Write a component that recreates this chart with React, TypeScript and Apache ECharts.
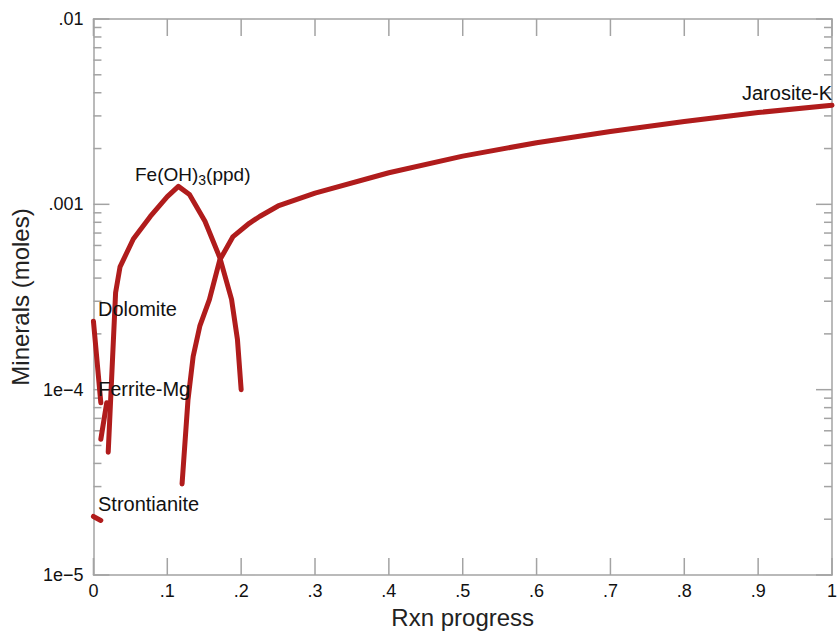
import React, { useEffect, useRef } from "react";
import * as echarts from "echarts";

// ---- data ----
const xTickValues = [0, 0.1, 0.2, 0.3, 0.4, 0.5, 0.6, 0.7, 0.8, 0.9, 1];
const xTickLabels = ["0", ".1", ".2", ".3", ".4", ".5", ".6", ".7", ".8", ".9", "1"];
const yTickValues = [1e-5, 1e-4, 1e-3, 1e-2];
const yTickLabels = ["1e\u22125", "1e\u22124", ".001", ".01"];
const minorMantissas = [2, 3, 4, 5, 6, 7, 8, 9];
const minorDecades = [1e-5, 1e-4, 1e-3];

const dolomiteX = [0, 0.01];
const dolomiteY = [2.34e-4, 8.5e-5];

const ferriteX = [0.01, 0.018];
const ferriteY = [5.4e-5, 8.5e-5];

const strontianiteX = [0, 0.01];
const strontianiteY = [2.07e-5, 1.97e-5];

const feohX = [0.02, 0.03, 0.036, 0.054, 0.077, 0.1, 0.115, 0.13, 0.151, 0.171, 0.187, 0.195, 0.2];
const feohY = [4.6e-5, 3.34e-4, 4.6e-4, 6.5e-4, 8.6e-4, 1.1e-3, 1.25e-3, 1.13e-3, 8.1e-4, 5.17e-4, 3.07e-4, 1.86e-4, 1.0e-4];

const jarositeX = [0.12, 0.128, 0.135, 0.144, 0.157, 0.171, 0.189, 0.211, 0.225, 0.25, 0.3, 0.4, 0.5, 0.6, 0.7, 0.8, 0.9, 1.0];
const jarositeY = [3.1e-5, 8.8e-5, 1.51e-4, 2.2e-4, 3.06e-4, 5.0e-4, 6.7e-4, 7.9e-4, 8.6e-4, 9.8e-4, 1.15e-3, 1.48e-3, 1.82e-3, 2.15e-3, 2.47e-3, 2.8e-3, 3.13e-3, 3.42e-3];

const LINE_COLOR = "#b01c1c";
const FRAME = "#a3a3a3";
const FONT = "'Liberation Sans', Arial, Helvetica, sans-serif";

const pairs = (xs: number[], ys: number[]) => xs.map((x, i) => [x, ys[i]]);

const yLabel = (v: number) => {
  const i = yTickValues.findIndex((t) => Math.abs(Math.log10(t) - Math.log10(v)) < 1e-6);
  return i >= 0 ? yTickLabels[i] : "";
};
const xLabel = (v: number) => {
  const i = xTickValues.findIndex((t) => Math.abs(t - v) < 1e-6);
  return i >= 0 ? xTickLabels[i] : "";
};

export default function App() {
  const ref = useRef<HTMLDivElement>(null);
  useEffect(() => {
    if (!ref.current) return;
    const chart = echarts.init(ref.current, null, { renderer: "svg" });

    // tick marks: [kind, x, y]  kind 0 = x major, 1 = y major, 2 = y minor
    const ticks: number[][] = [];
    xTickValues.forEach((x) => ticks.push([0, x, 1e-5]));
    yTickValues.forEach((y) => ticks.push([1, 0, y]));
    minorDecades.forEach((d) => minorMantissas.forEach((m) => ticks.push([2, 0, m * d])));

    const lineSeries = (name: string, xs: number[], ys: number[]) => ({
      name,
      type: "line",
      data: pairs(xs, ys),
      showSymbol: false,
      smooth: false,
      xAxisIndex: 0,
      yAxisIndex: 0,
      lineStyle: { color: LINE_COLOR, width: 5, cap: "round", join: "round" },
      itemStyle: { color: LINE_COLOR },
      z: 5,
    });

    const axisCommonX = {
      type: "value",
      min: 0,
      max: 1,
      interval: 0.1,
      splitLine: { show: false },
      axisLine: { show: true, onZero: false, lineStyle: { color: FRAME, width: 1.5 } },
      axisTick: { show: false },
    };
    const axisCommonY = {
      type: "log",
      logBase: 10,
      min: 1e-5,
      max: 1e-2,
      splitNumber: 3,
      splitLine: { show: false },
      axisLine: { show: true, onZero: false, lineStyle: { color: FRAME, width: 1.5 } },
      axisTick: { show: false },
    };

    chart.setOption({
      animation: false,
      backgroundColor: "#ffffff",
      grid: { left: 93, right: 4, top: 19, bottom: 67, show: false },
      xAxis: [
        {
          ...axisCommonX,
          position: "bottom",
          name: "Rxn progress",
          nameLocation: "middle",
          nameGap: 30,
          nameTextStyle: { fontSize: 24, color: "#222", fontFamily: FONT },
          axisLabel: { formatter: xLabel, fontSize: 18, color: "#111", margin: 7, fontFamily: FONT },
        },
        {
          ...axisCommonX,
          position: "top",
          axisLabel: { show: false },
        },
      ],
      yAxis: [
        {
          ...axisCommonY,
          position: "left",
          name: "Minerals (moles)",
          nameLocation: "middle",
          nameGap: 58,
          nameRotate: 90,
          nameTextStyle: { fontSize: 24, color: "#222", fontFamily: FONT },
          axisLabel: { formatter: yLabel, fontSize: 18, color: "#111", margin: 10, fontFamily: FONT },
        },
        {
          ...axisCommonY,
          position: "right",
          axisLabel: { show: false },
        },
      ],
      series: [
        {
          type: "custom",
          xAxisIndex: 0,
          yAxisIndex: 0,
          data: ticks,
          clip: false,
          silent: true,
          z: 1,
          encode: { x: 1, y: 2 },
          renderItem: (params: any, api: any) => {
            const kind = api.value(0);
            const st = { stroke: FRAME, lineWidth: 1.5 };
            if (kind === 0) {
              const x = api.value(1);
              const pB = api.coord([x, 1e-5]);
              const pT = api.coord([x, 1e-2]);
              return {
                type: "group",
                children: [
                  { type: "line", shape: { x1: pB[0], y1: pB[1], x2: pB[0], y2: pB[1] - 17 }, style: st },
                  { type: "line", shape: { x1: pT[0], y1: pT[1], x2: pT[0], y2: pT[1] + 17 }, style: st },
                ],
              };
            }
            const v = api.value(2);
            const len = kind === 1 ? 16 : 8;
            const pL = api.coord([0, v]);
            const pR = api.coord([1, v]);
            return {
              type: "group",
              children: [
                { type: "line", shape: { x1: pL[0], y1: pL[1], x2: pL[0] + len, y2: pL[1] }, style: st },
                { type: "line", shape: { x1: pR[0] - len, y1: pR[1], x2: pR[0], y2: pR[1] }, style: st },
              ],
            };
          },
        },
        lineSeries("Strontianite", strontianiteX, strontianiteY),
        lineSeries("Dolomite", dolomiteX, dolomiteY),
        lineSeries("Ferrite-Mg", ferriteX, ferriteY),
        lineSeries("Fe(OH)3(ppd)", feohX, feohY),
        lineSeries("Jarosite-K", jarositeX, jarositeY),
      ],
      graphic: [
        {
          type: "text",
          x: 832,
          y: 93,
          style: { text: "Jarosite-K", font: `20px ${FONT}`, fill: "#111", align: "right", verticalAlign: "middle" },
          z: 10,
        },
        {
          type: "text",
          x: 135,
          y: 161,
          style: {
            text: "{a|Fe(OH)}{s|3}{a|(ppd)}",
            fill: "#111",
            fontFamily: FONT,
            align: "left",
            verticalAlign: "top",
            rich: {
              a: { fontSize: 19, lineHeight: 26, fontFamily: FONT, fill: "#111" },
              s: { fontSize: 14, lineHeight: 14, fontFamily: FONT, fill: "#111", verticalAlign: "bottom" },
            },
          },
          z: 10,
        },
        {
          type: "text",
          x: 98,
          y: 309,
          style: { text: "Dolomite", font: `20px ${FONT}`, fill: "#111", align: "left", verticalAlign: "middle" },
          z: 10,
        },
        {
          type: "text",
          x: 98,
          y: 389,
          style: { text: "Ferrite-Mg", font: `20px ${FONT}`, fill: "#111", align: "left", verticalAlign: "middle" },
          z: 10,
        },
        {
          type: "text",
          x: 98,
          y: 504,
          style: { text: "Strontianite", font: `20px ${FONT}`, fill: "#111", align: "left", verticalAlign: "middle" },
          z: 10,
        },
      ],
    });
    return () => chart.dispose();
  }, []);
  return <div ref={ref} style={{ width: 840, height: 642, position: "absolute", left: 0, top: 0 }} />;
}
